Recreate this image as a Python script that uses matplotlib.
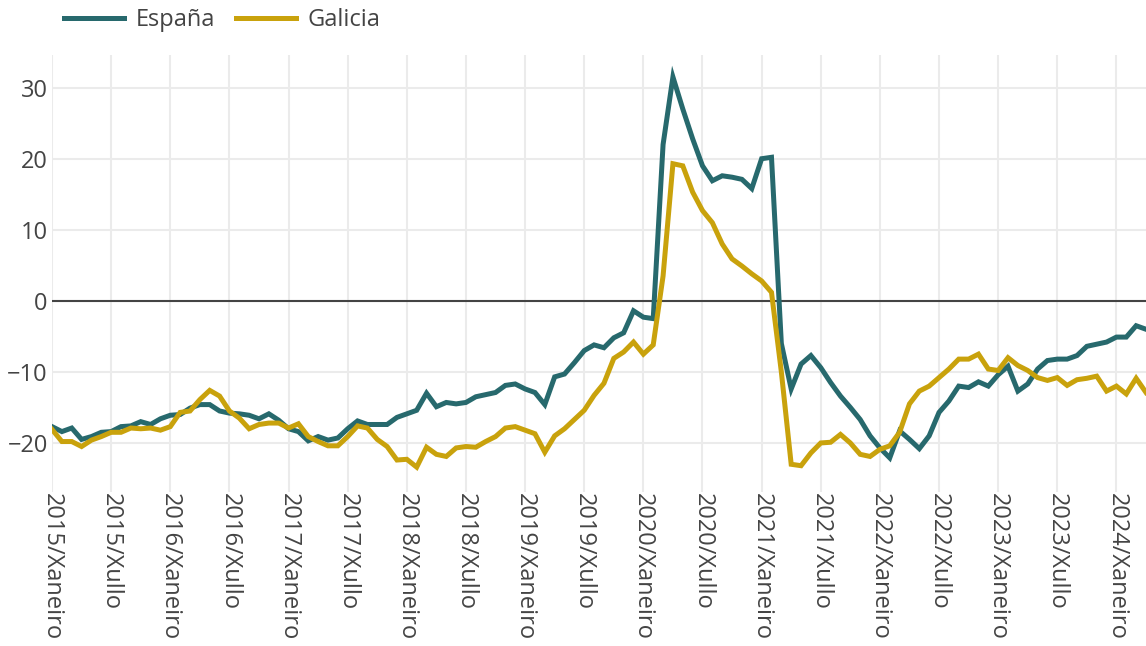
import matplotlib
matplotlib.use("Agg")
import matplotlib.pyplot as plt
import numpy as np

plt.rcParams['font.family'] = ['Open Sans', 'DejaVu Sans']

# Datos mensuais, xaneiro 2015 - abril 2024
espana = [-17.7, -18.4, -17.9, -19.5, -19.1, -18.5, -18.4, -17.7, -17.6, -17.0, -17.4, -16.6,
          -16.1, -16.0, -15.1, -14.6, -14.6, -15.5, -15.8, -15.9, -16.1, -16.6, -15.9, -16.8,
          -18.0, -18.4, -19.7, -19.1, -19.6, -19.3, -18.0, -16.9, -17.4, -17.4, -17.4, -16.4,
          -15.9, -15.4, -13.0, -14.9, -14.3, -14.5, -14.3, -13.5, -13.2, -12.9, -11.9, -11.7,
          -12.4, -12.9, -14.6, -10.7, -10.3, -8.7, -7.0, -6.2, -6.6, -5.2, -4.5, -1.4,
          -2.3, -2.5, 22.0, 31.5, 27.0, 22.8, 19.0, 16.9, 17.6, 17.4, 17.1, 15.8,
          20.0, 20.2, -6.0, -12.4, -8.9, -7.7, -9.4, -11.5, -13.4, -15.0, -16.7, -19.0,
          -20.7, -22.1, -18.3, -19.5, -20.8, -19.0, -15.7, -14.1, -12.0, -12.2, -11.4, -12.0,
          -10.4, -9.2, -12.7, -11.7, -9.6, -8.4, -8.2, -8.2, -7.7, -6.4, -6.1, -5.8,
          -5.1, -5.1, -3.5, -4.0]
galicia = [-18.1, -19.8, -19.8, -20.5, -19.6, -19.1, -18.5, -18.5, -17.9, -18.0, -17.9, -18.2,
           -17.7, -15.7, -15.5, -13.9, -12.6, -13.4, -15.5, -16.5, -18.0, -17.4, -17.2, -17.2,
           -17.9, -17.3, -19.1, -19.8, -20.4, -20.4, -19.1, -17.6, -17.9, -19.5, -20.5, -22.4,
           -22.3, -23.4, -20.6, -21.6, -21.9, -20.7, -20.5, -20.6, -19.8, -19.1, -17.9, -17.7,
           -18.2, -18.7, -21.3, -19.0, -18.0, -16.7, -15.4, -13.3, -11.6, -8.1, -7.2, -5.8,
           -7.5, -6.2, 3.5, 19.3, 19.0, 15.3, 12.7, 11.0, 8.0, 5.9, 4.9, 3.8,
           2.8, 1.2, -10.0, -23.0, -23.2, -21.4, -20.0, -19.9, -18.8, -20.0, -21.6, -21.9,
           -20.9, -20.4, -18.5, -14.5, -12.7, -12.0, -10.8, -9.6, -8.2, -8.2, -7.5, -9.6,
           -9.8, -8.0, -9.1, -9.8, -10.8, -11.2, -10.8, -11.9, -11.1, -10.9, -10.6, -12.7,
           -12.0, -13.1, -10.9, -12.9]

anos = list(range(2015, 2025))
meses_tick = ['Xaneiro', 'Xullo']
tick_labels = [f'{a}/{m}' for a in anos for m in meses_tick][:19]

x = np.arange(len(espana))

fig = plt.figure(figsize=(11.46, 6.46), dpi=100)
ax = fig.add_axes([0.0454, 0.2384, 0.9546, 0.6765])

ax.plot(x, espana, color='#27696d', lw=3.6, label='España', solid_joinstyle='miter', zorder=3)
ax.plot(x, galicia, color='#c9a20c', lw=3.6, label='Galicia', solid_joinstyle='miter', zorder=3)
ax.axhline(0, color='#444444', lw=1.5, zorder=2)

ax.set_xlim(0, len(espana) - 1)
ax.set_ylim(-26.9, 34.6)
ax.set_yticks([-20, -10, 0, 10, 20, 30])
ax.set_xticks(np.arange(0, len(espana), 6))
ax.set_xticklabels(tick_labels, rotation=270, ha='center', va='top')

ax.grid(True, color='#ebebeb', lw=1.5, zorder=0)
for s in ax.spines.values():
    s.set_visible(False)
ax.tick_params(length=0, labelsize=17, labelcolor='#444444')
ax.tick_params(axis='y', pad=3)
ax.tick_params(axis='x', pad=1)

fig.legend(loc='upper left', bbox_to_anchor=(0.0375, 1.02), ncol=2, frameon=False,
           fontsize=17, handlelength=2.55, handletextpad=0.47, columnspacing=0.9,
           labelcolor='#444444')

fig.savefig('out.png', dpi=100)
